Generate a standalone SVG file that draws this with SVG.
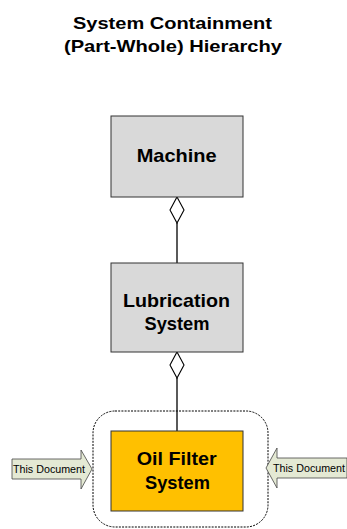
<svg xmlns="http://www.w3.org/2000/svg" width="347" height="529" viewBox="0 0 347 529">
<style>
.title{font-family:"Liberation Sans",Arial,sans-serif;font-weight:bold;font-size:16.5px;fill:#000;text-anchor:middle}
.lbl{font-family:"Liberation Sans",Arial,sans-serif;font-weight:bold;font-size:18.5px;fill:#000;text-anchor:middle}
.doc{font-family:"Liberation Sans",Arial,sans-serif;font-size:10px;fill:#000}
.box{fill:#d9d9d9;stroke:#333;stroke-width:1}
.arrow{fill:#e4e9d4;stroke:#444;stroke-width:0.8}
.conn{stroke:#000;stroke-width:1.3;fill:none}
.dia{fill:#fff;stroke:#000;stroke-width:1.1}
</style>
<text class="title" x="172.5" y="28.5" textLength="199" lengthAdjust="spacingAndGlyphs">System Containment</text>
<text class="title" x="173" y="51.5" textLength="218" lengthAdjust="spacingAndGlyphs">(Part-Whole) Hierarchy</text>
<g id="boundary">
<rect x="93" y="411" width="175" height="116" rx="22" ry="22" fill="none" stroke="#000" stroke-width="1" stroke-dasharray="2,1.2"/>
</g>
<g id="connectors">
<line class="conn" x1="177" y1="223" x2="177" y2="263"/>
<polygon class="dia" points="177,197 184,210 177,223 170,210"/>
<line class="conn" x1="177" y1="378" x2="177" y2="431"/>
<polygon class="dia" points="177,352 184,365 177,378 170,365"/>
</g>
<g id="machine">
<rect class="box" x="111" y="116" width="132" height="81"/>
<text class="lbl" x="176.7" y="161.7" textLength="80" lengthAdjust="spacingAndGlyphs">Machine</text>
</g>
<g id="lubrication">
<rect class="box" x="111" y="263" width="132" height="89"/>
<text class="lbl" x="176.5" y="306.5" textLength="107" lengthAdjust="spacingAndGlyphs">Lubrication</text>
<text class="lbl" x="177" y="330" textLength="65" lengthAdjust="spacingAndGlyphs">System</text>
</g>
<g id="oilfilter">
<rect x="111" y="431" width="132" height="80" fill="#ffc000" stroke="#333" stroke-width="1"/>
<text class="lbl" x="176.7" y="465" textLength="80" lengthAdjust="spacingAndGlyphs">Oil Filter</text>
<text class="lbl" x="177.5" y="488.5" textLength="65" lengthAdjust="spacingAndGlyphs">System</text>
</g>
<g id="doc-left">
<polygon class="arrow" points="12,459 81,459 81,450 92,469 81,489 81,479 12,479"/>
<text class="doc" x="13" y="472.5" textLength="72" lengthAdjust="spacingAndGlyphs">This Document</text>
</g>
<g id="doc-right">
<polygon class="arrow" points="347,458 277,458 277,448 266,468 277,488 277,478 347,478"/>
<text class="doc" x="273" y="472" textLength="72" lengthAdjust="spacingAndGlyphs">This Document</text>
</g>
</svg>
